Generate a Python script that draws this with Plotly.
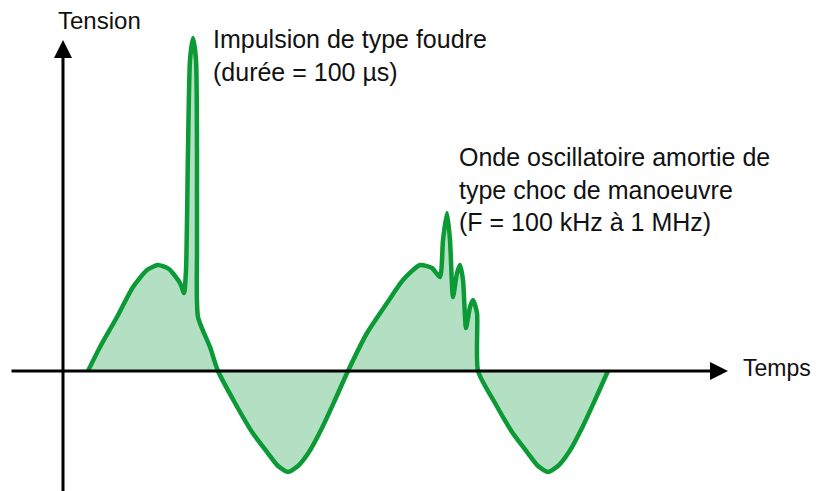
import plotly.graph_objects as go

# Curve (time, voltage) in arbitrary units
temps = [25, 37, 54, 70, 84, 95, 106, 117, 121, 123, 125, 127, 130, 133, 134, 134, 135,
         147, 155, 172, 189, 204, 215, 225, 235, 246, 259, 272, 285,
         304, 324, 340, 357, 369, 377, 380,
         384, 387, 390, 394, 397, 400, 403, 407, 410, 414, 415,
         432, 449, 464, 475, 485, 495, 506, 519, 532, 545]
tension = [0, 24, 54, 84, 101, 106, 102, 88, 78, 101, 221, 311, 333, 311, 221, 121, 54,
           24, 0, -32, -61, -81, -95, -101, -95, -81, -57, -29, 0,
           38, 68, 91, 106, 103, 94, 131,
           158, 131, 74, 98, 106, 91, 43, 64, 71, 58, 0,
           -32, -61, -81, -95, -101, -95, -81, -57, -29, 0]

axis_x_start, axis_x_end = -53, 665
axis_y_start, axis_y_end = -125, 331

label_y = "Tension"
label_x = "Temps"
note_impulse = "Impulsion de type foudre<br>(durée = 100 µs)"
note_wave = "Onde oscillatoire amortie de<br>type choc de manoeuvre<br>(F = 100 kHz à 1 MHz)"

FONT = "Liberation Sans"
FS = 25

fig = go.Figure()
fig.add_trace(go.Scatter(
    x=temps, y=tension, mode="lines",
    line=dict(color="#0b9a36", width=4.5, shape="spline", smoothing=0.6),
    fill="tozeroy", fillcolor="#b3e0c2", hoverinfo="skip", showlegend=False,
))

annotations = [
    dict(x=axis_x_end, y=0, ax=axis_x_start, ay=0, xref="x", yref="y", axref="x", ayref="y",
         showarrow=True, arrowhead=2, arrowsize=1.2, arrowwidth=3, arrowcolor="black",
         standoff=0, startstandoff=0, text=""),
    dict(x=0, y=axis_y_end, ax=0, ay=axis_y_start, xref="x", yref="y", axref="x", ayref="y",
         showarrow=True, arrowhead=2, arrowsize=1.2, arrowwidth=3, arrowcolor="black",
         standoff=0, startstandoff=0, text=""),
    dict(x=-7, y=351, text=label_y, xanchor="left", yanchor="middle", showarrow=False,
         font=dict(family=FONT, size=24, color="#111")),
    dict(x=678, y=3, text=label_x, xanchor="left", yanchor="middle", showarrow=False,
         font=dict(family=FONT, size=23, color="#111")),
    dict(x=148, y=316, text=note_impulse, xanchor="left", yanchor="middle", align="left",
         showarrow=False, font=dict(family=FONT, size=FS, color="#111")),
    dict(x=394, y=182, text=note_wave, xanchor="left", yanchor="middle", align="left",
         showarrow=False, font=dict(family=FONT, size=FS, color="#111")),
]

fig.update_layout(
    width=818, height=491,
    margin=dict(l=0, r=0, t=0, b=0),
    paper_bgcolor="white", plot_bgcolor="white",
    xaxis=dict(range=[-63, 755], visible=False, fixedrange=True),
    yaxis=dict(range=[-120, 371], visible=False, fixedrange=True),
    annotations=annotations,
    showlegend=False,
)

fig.write_html("out.html", config={"displayModeBar": False},
               post_script="document.body.style.margin='0px';")
